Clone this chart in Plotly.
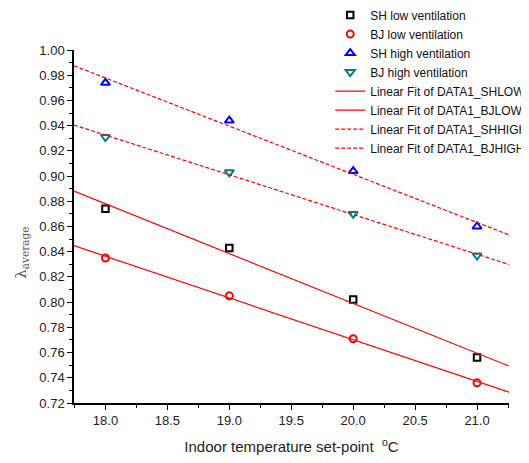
import numpy as np
import plotly.graph_objects as go

temps = [18.0, 19.0, 20.0, 21.0]
sh_low = [0.874, 0.843, 0.802, 0.756]
bj_low = [0.835, 0.805, 0.771, 0.736]
sh_high = [0.974, 0.944, 0.904, 0.860]
bj_high = [0.931, 0.903, 0.870, 0.837]

x_range = [17.746, 21.258]
y_range = [0.72, 1.00]

fig = go.Figure()

series = [
    ("SH low ventilation", sh_low, "square-open", "black", 6.5),
    ("BJ low ventilation", bj_low, "circle-open", "red", 7),
    ("SH high ventilation", sh_high, "triangle-up-open", "blue", 8),
    ("BJ high ventilation", bj_high, "triangle-down-open", "#008080", 8),
]
for name, ys, sym, col, sz in series:
    fig.add_trace(go.Scatter(
        x=temps, y=ys, mode="markers", name=name,
        marker=dict(symbol=sym, size=sz, color=col, line=dict(width=2, color=col)),
    ))

fits = [
    ("Linear Fit of DATA1_SHLOW", sh_low, "solid"),
    ("Linear Fit of DATA1_BJLOW", bj_low, "solid"),
    ("Linear Fit of DATA1_SHHIGH", sh_high, "dash"),
    ("Linear Fit of DATA1_BJHIGH", bj_high, "dash"),
]
xf = np.array(x_range)
for name, ys, dash in fits:
    k, b = np.polyfit(temps, ys, 1)
    fig.add_trace(go.Scatter(
        x=xf, y=k * xf + b, mode="lines", name=name,
        line=dict(color="red", width=1.2, dash="4px,2px" if dash == "dash" else "solid"),
    ))

font = "Arial, Liberation Sans, sans-serif"
fig.update_layout(
    width=521, height=455,
    margin=dict(l=65.5, r=20, t=42, b=60, autoexpand=False),
    paper_bgcolor="white", plot_bgcolor="white",
    font=dict(family=font, color="#222", size=13),
    showlegend=True,
    legend=dict(
        x=0.589, y=1.14, xanchor="left", yanchor="top",
        bgcolor="rgba(0,0,0,0)", font=dict(size=12, family=font, color="#111"),
        itemwidth=30, tracegroupgap=0,
    ),
    xaxis=dict(
        range=x_range, tickvals=[18.0, 18.5, 19.0, 19.5, 20.0, 20.5, 21.0],
        ticktext=["18.0", "18.5", "19.0", "19.5", "20.0", "20.5", "21.0"],
        showgrid=False, zeroline=False, showline=True, linecolor="black", linewidth=1.5,
        ticks="outside", ticklen=5, tickwidth=1.2, tickcolor="black",
        minor=dict(dtick=0.25, tick0=18.0, ticks="outside", ticklen=3, tickcolor="black", tickwidth=1.2),
        title=dict(text="Indoor temperature set-point  <sup>o</sup>C", font=dict(size=15, family=font), standoff=14),
        tickfont=dict(size=13),
    ),
    yaxis=dict(
        range=y_range, dtick=0.02, tick0=0.72, tickformat=".2f",
        showgrid=False, zeroline=False, showline=True, linecolor="black", linewidth=1.5,
        ticks="outside", ticklen=5, tickwidth=1.2, tickcolor="black",
        minor=dict(dtick=0.01, tick0=0.72, ticks="outside", ticklen=3, tickcolor="black", tickwidth=1.2),
        tickfont=dict(size=13),
    ),
    annotations=[dict(
        text="λ<sub>average</sub>", textangle=-90, showarrow=False,
        xref="paper", yref="paper", x=-0.12, y=0.425, xanchor="center", yanchor="middle",
        font=dict(size=15, family="DejaVu Serif, serif", color="#555"),
    )],
)

fig.write_html("out.html")
